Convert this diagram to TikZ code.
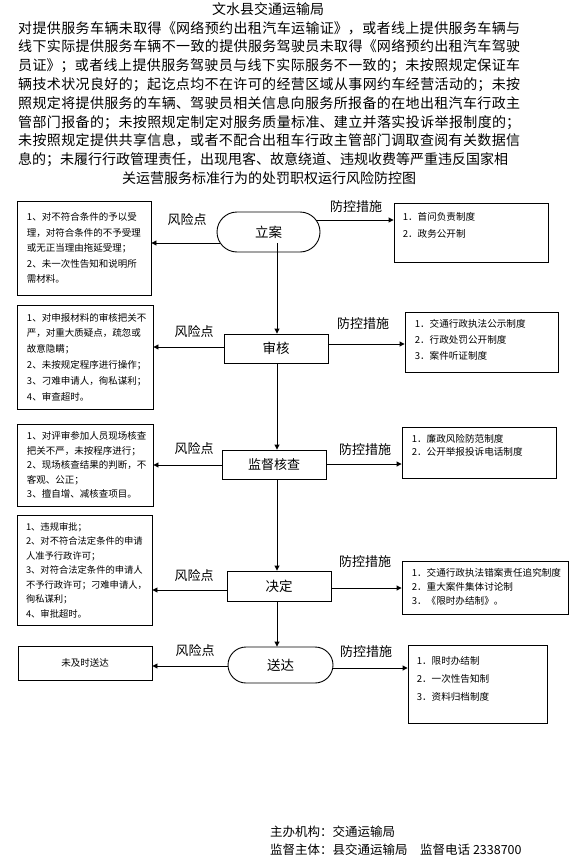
\documentclass[tikz,border=0pt]{standalone}
\usepackage{fontspec}
\setmainfont{Noto Sans CJK SC}
\usetikzlibrary{arrows.meta}
\newcommand{\skfont}[2]{\fontsize{#1pt}{#2pt}\selectfont}
\begin{document}
\begin{tikzpicture}[x=1pt,y=-1pt,
  box/.style={draw,line width=0.9pt,inner sep=0pt,rectangle},
  riskbox/.style={box,align=left,font=\skfont{9.5}{15.5}},
  mainbox/.style={box,font=\skfont{13.5}{14}},
  mtext/.style={anchor=north west,inner sep=0pt,align=left},
  lab/.style={inner sep=0pt,font=\skfont{13}{14}},
  arr/.style={line width=0.9pt,-{Triangle[length=5pt,width=5pt]}}]
\useasboundingbox (0,0) rectangle (583,867);

% heading
\node[inner sep=0pt,font=\skfont{14}{14}] (title) at (268,9) {文水县交通运输局};
\node[inner sep=0pt,font=\skfont{14}{14}] (title2) at (269,178) {关运营服务标准行为的处罚职权运行风险防控图};

% main flow
\node[mainbox,minimum width=103pt,minimum height=40pt,rounded corners=20pt] (lian) at (268.5,232) {立案};
\node[mainbox,minimum width=104pt,minimum height=29pt] (shenhe) at (276,348.5) {审核};
\node[mainbox,minimum width=104pt,minimum height=29pt,font=\skfont{13}{14}] (jiandu) at (274,464.5) {监督核查};
\node[mainbox,minimum width=104pt,minimum height=30pt] (jueding) at (279,586) {决定};
\node[mainbox,minimum width=105pt,minimum height=36pt,rounded corners=18pt] (songda) at (280.5,665) {送达};

% risk boxes
\node[riskbox,minimum width=134pt,minimum height=94pt,text width=114pt] (r1) at (84,248)
{1、对不符合条件的予以受\\理，对符合条件的不予受理\\或无正当理由拖延受理；\\2、未一次性告知和说明所\\需材料。};
\node[riskbox,minimum width=136pt,minimum height=104pt,text width=116pt,font=\skfont{9.5}{15.8}] (r2) at (85,357)
{1、对申报材料的审核把关不\\严，对重大质疑点，疏忽或\\故意隐瞒；\\2、未按规定程序进行操作；\\3、刁难申请人，徇私谋利；\\4、审查超时。};
\node[riskbox,minimum width=136pt,minimum height=82pt,text width=116pt,font=\skfont{9.5}{14.5}] (r3) at (85,465)
{1、对评审参加人员现场核查\\把关不严，未按程序进行；\\2、现场核查结果的判断，不\\客观、公正；\\3、擅自增、减核查项目。};
\node[riskbox,minimum width=135pt,minimum height=110pt,text width=117pt,font=\skfont{9.3}{14.5}] (r4) at (84.5,570)
{1、违规审批；\\2、对不符合法定条件的申请\\人准予行政许可；\\3、对符合法定条件的申请人\\不予行政许可；刁难申请人，\\徇私谋利；\\4、审批超时。};
\node[box,minimum width=134pt,minimum height=34pt,font=\skfont{9.5}{12}] (r5) at (85,663) {未及时送达};

% measure boxes
\node[box,minimum width=154pt,minimum height=59pt] (m1) at (471,232.5) {};
\node[box,minimum width=153pt,minimum height=60pt] (m2) at (481.5,342) {};
\node[box,minimum width=154pt,minimum height=51pt] (m3) at (479,452.5) {};
\node[box,minimum width=166pt,minimum height=53pt] (m4) at (485,587.5) {};
\node[box,minimum width=139pt,minimum height=78pt] (m5) at (477.5,684) {};

\node[mtext,font=\skfont{9.6}{17}] (m1t) at ([xshift=9pt,yshift=-10pt]m1.north west) {1．首问负责制度\\2．政务公开制};
\node[mtext,font=\skfont{9.6}{16}] (m2t) at ([xshift=10pt,yshift=-8pt]m2.north west) {1．交通行政执法公示制度\\2．行政处罚公开制度\\3．案件听证制度};
\node[mtext,font=\skfont{9.6}{12.5}] (m3t) at ([xshift=10pt,yshift=-8pt]m3.north west) {1．廉政风险防范制度\\2．公开举报投诉电话制度};
\node[mtext,font=\skfont{9.6}{14}] (m4t) at ([xshift=10pt,yshift=-8pt]m4.north west) {1．交通行政执法错案责任追究制度\\2．重大案件集体讨论制\\3．《限时办结制》。};
\node[mtext,font=\skfont{9.6}{18}] (m5t) at ([xshift=9pt,yshift=-12pt]m5.north west) {1．限时办结制\\2．一次性告知制\\3．资料归档制度};

% labels
\node[lab] (k1) at (187,220) {风险点};
\node[lab] (k2) at (194,332) {风险点};
\node[lab] (k3) at (194,449) {风险点};
\node[lab] (k4) at (194,576) {风险点};
\node[lab] (k5) at (195,651) {风险点};
\node[lab] (p1) at (356,207) {防控措施};
\node[lab] (p2) at (363,324) {防控措施};
\node[lab] (p3) at (365,450) {防控措施};
\node[lab] (p4) at (365,562) {防控措施};
\node[lab] (p5) at (366,652) {防控措施};

% connectors
\coordinate (v0) at (277,243);
\draw[arr] (v0) -- (v0 |- shenhe.north);
\draw[arr] (shenhe.south -| v0) -- (jiandu.north -| v0);
\draw[arr] (jiandu.south -| v0) -- (jueding.north -| v0);
\draw[arr] (jueding.south -| v0) -- (songda.north -| v0);

\draw[arr] ([xshift=3pt,yshift=-11pt]lian.west) -- ([yshift=-11pt]lian.west -| r1.east);
\draw[arr] ([xshift=-4pt,yshift=12pt]lian.east) -- ([yshift=12pt]lian.east -| m1.west);
\draw[arr] ([yshift=1.5pt]shenhe.west) -- ([yshift=1.5pt]shenhe.west -| r2.east);
\draw[arr] ([yshift=4.5pt]shenhe.east) -- ([yshift=4.5pt]shenhe.east -| m2.west);
\draw[arr] ([yshift=-0.5pt]jiandu.west) -- ([yshift=-0.5pt]jiandu.west -| r3.east);
\draw[arr] ([yshift=0.5pt]jiandu.east) -- ([yshift=0.5pt]jiandu.east -| m3.west);
\draw[arr] ([yshift=-4pt]jueding.west) -- ([yshift=-4pt]jueding.west -| r4.east);
\draw[arr] ([yshift=-2pt]jueding.east) -- ([yshift=-2pt]jueding.east -| m4.west);
\draw[arr] ([yshift=-1pt]songda.west) -- ([yshift=-1pt]songda.west -| r5.east);
\draw[arr] ([yshift=-3pt]songda.east) -- ([yshift=-3pt]songda.east -| m5.west);

% footer
\node[anchor=west,inner sep=0pt,font=\skfont{12.5}{13}] (org) at (270,832) {主办机构：交通运输局};
\node[anchor=west,inner sep=0pt,font=\skfont{12.5}{13}] (sup) at (270,850) {监督主体：县交通运输局\hspace{1em}监督电话 2338700};

% body paragraph (last, because its line-break setting is global)
\node[anchor=north west,inner sep=0pt,text width=502pt,align=justify,font=\skfont{14}{18.8}] (para) at (18,21)
{\XeTeXlinebreaklocale "zh"\XeTeXlinebreakskip=0pt plus 1pt\parfillskip=0pt%
对提供服务车辆未取得《网络预约出租汽车运输证》，或者线上提供服务车辆与\linebreak
线下实际提供服务车辆不一致的提供服务驾驶员未取得《网络预约出租汽车驾驶\linebreak
员证》；或者线上提供服务驾驶员与线下实际服务不一致的；未按照规定保证车\linebreak
辆技术状况良好的；起讫点均不在许可的经营区域从事网约车经营活动的；未按\linebreak
照规定将提供服务的车辆、驾驶员相关信息向服务所报备的在地出租汽车行政主\linebreak
管部门报备的；未按照规定制定对服务质量标准、建立并落实投诉举报制度的；\linebreak
未按照规定提供共享信息，或者不配合出租车行政主管部门调取查阅有关数据信\linebreak
息的；未履行行政管理责任，出现甩客、故意绕道、违规收费等严重违反国家相};
\end{tikzpicture}
\end{document}
